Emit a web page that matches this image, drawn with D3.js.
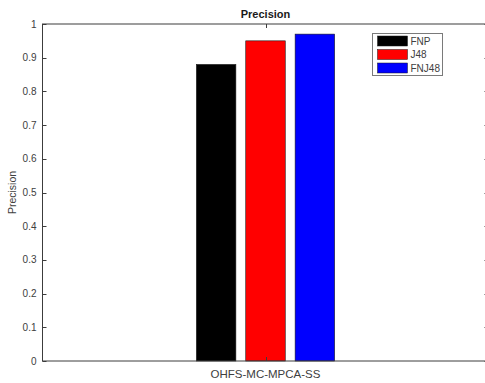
<!DOCTYPE html>
<html>
<head>
<meta charset="utf-8">
<script src="https://cdn.jsdelivr.net/npm/d3@7/dist/d3.min.js"></script>
<style>
  html, body { margin: 0; padding: 0; background: #fff; }
  svg { display: block; }
  text { font-family: "Liberation Sans", Arial, sans-serif; }
</style>
</head>
<body>
<svg id="chart" width="485" height="383"></svg>
<script>
// Grouped bar chart data
const categories = ["OHFS-MC-MPCA-SS"];
const seriesNames = ["FNP", "J48", "FNJ48"];
const seriesColors = ["#000000", "#ff0000", "#0000ff"];
const values = [[0.88, 0.95, 0.97]];
const yTicks = [0, 0.1, 0.2, 0.3, 0.4, 0.5, 0.6, 0.7, 0.8, 0.9, 1];

const svg = d3.select("#chart");
const axisColor = "#3c3c3c";
const plot = { left: 42.5, right: 488.5, top: 24, bottom: 361 };

const x = d3.scaleLinear().domain([0.5, categories.length + 0.5]).range([plot.left, plot.right]);
const y = d3.scaleLinear().domain([0, 1]).range([plot.bottom, plot.top]);
// each group occupies 0.31 of a category slot, split into three bars
const groupHalf = x(1.155) - x(1);
const inner = d3.scaleBand().domain(seriesNames).range([-groupHalf, groupHalf]).paddingInner(0.2);

// Bars
categories.forEach((cat, ci) => {
  const cx = x(ci + 1);
  seriesNames.forEach((s, si) => {
    const v = values[ci][si];
    svg.append("rect")
      .attr("x", cx + inner(s))
      .attr("y", y(v))
      .attr("width", inner.bandwidth())
      .attr("height", y(0) - y(v))
      .attr("fill", seriesColors[si])
      .attr("stroke", "#1a1a1a")
      .attr("stroke-width", 0.6);
  });
});

// Box axes with inward ticks
const tickLen = 4;
const axes = svg.append("g").attr("stroke", axisColor).attr("stroke-width", 1).attr("fill", "none");
axes.append("rect")
  .attr("x", plot.left).attr("y", plot.top)
  .attr("width", plot.right - plot.left).attr("height", plot.bottom - plot.top);

yTicks.forEach(t => {
  const ty = Math.round(y(t)) + 0.5;
  axes.append("line").attr("x1", plot.left).attr("x2", plot.left + tickLen).attr("y1", ty).attr("y2", ty);
  axes.append("line").attr("x1", plot.right).attr("x2", plot.right - tickLen).attr("y1", ty).attr("y2", ty);
});
categories.forEach((c, i) => {
  const tx = Math.round(x(i + 1)) + 0.5;
  axes.append("line").attr("x1", tx).attr("x2", tx).attr("y1", plot.top).attr("y2", plot.top + tickLen);
  axes.append("line").attr("x1", tx).attr("x2", tx).attr("y1", plot.bottom).attr("y2", plot.bottom - tickLen);
});

// Tick labels
svg.append("g").selectAll("text").data(yTicks).join("text")
  .attr("x", plot.left - 6)
  .attr("y", d => y(d))
  .attr("dy", "0.35em")
  .attr("text-anchor", "end")
  .attr("font-size", 10)
  .attr("fill", "#404040")
  .text(d => d3.format("~g")(d));

svg.append("g").selectAll("text").data(categories).join("text")
  .attr("x", (d, i) => x(i + 1))
  .attr("y", plot.bottom + 17)
  .attr("text-anchor", "middle")
  .attr("font-size", 11.5)
  .attr("fill", "#404040")
  .text(d => d);

// Title and axis label
svg.append("text")
  .attr("x", x(1)).attr("y", 18)
  .attr("text-anchor", "middle")
  .attr("font-size", 11).attr("font-weight", "bold")
  .attr("fill", "#1a1a1a")
  .text("Precision");

svg.append("text")
  .attr("transform", `translate(16, ${(plot.top + plot.bottom) / 2}) rotate(-90)`)
  .attr("text-anchor", "middle")
  .attr("font-size", 10.5)
  .attr("fill", "#404040")
  .text("Precision");

// Legend
const legend = svg.append("g").attr("transform", "translate(372.5, 33.5)");
legend.append("rect")
  .attr("width", 70).attr("height", 42)
  .attr("fill", "#fff").attr("stroke", "#7a7a7a").attr("stroke-width", 1);
seriesNames.forEach((s, i) => {
  const row = legend.append("g").attr("transform", `translate(5, ${7.5 + i * 13.5})`);
  row.append("rect").attr("x", 0).attr("y", -5).attr("width", 30).attr("height", 10)
    .attr("fill", seriesColors[i]).attr("stroke", "#1a1a1a").attr("stroke-width", 0.5);
  row.append("text").attr("x", 33).attr("y", 0).attr("dy", "0.35em")
    .attr("font-size", 10).attr("fill", "#404040").text(s);
});
</script>
</body>
</html>
